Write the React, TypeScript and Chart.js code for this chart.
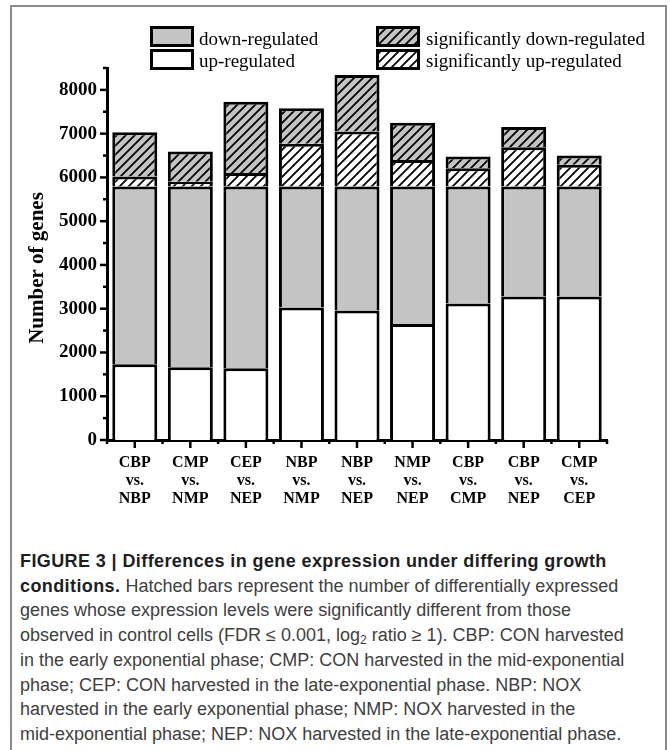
import React, { useEffect, useRef } from "react";
import { Chart, registerables } from "chart.js";

Chart.register(...registerables);

// Pairwise comparisons shown on the x axis (one line per entry)
const comparisons: string[][] = [
  ["CBP", "vs.", "NBP"],
  ["CMP", "vs.", "NMP"],
  ["CEP", "vs.", "NEP"],
  ["NBP", "vs.", "NMP"],
  ["NBP", "vs.", "NEP"],
  ["NMP", "vs.", "NEP"],
  ["CBP", "vs.", "CMP"],
  ["CBP", "vs.", "NEP"],
  ["CMP", "vs.", "CEP"],
];

// Gene counts per comparison, stacked bottom to top
const upRegulated = [1730, 1660, 1640, 3030, 2960, 2650, 3120, 3280, 3280];
const downRegulated = [4060, 4130, 4150, 2760, 2830, 3140, 2670, 2510, 2510];
const sigUpRegulated = [230, 110, 310, 980, 1260, 610, 420, 900, 500];
const sigDownRegulated = [1010, 690, 1630, 810, 1290, 850, 270, 460, 210];

const seriesNames = {
  up: "up-regulated",
  down: "down-regulated",
  sigUp: "significantly up-regulated",
  sigDown: "significantly down-regulated",
};

const yMax = 8500;
const yMajorStep = 1000;
const yMinorStep = 500;
const yTitle = "Number of genes";

const GRAY = "#c4c4c4";
const SERIF = '"Liberation Serif", "Times New Roman", serif';

function makeHatch(ctx: CanvasRenderingContext2D, bg: string): CanvasPattern {
  const s = 9;
  const c = document.createElement("canvas");
  c.width = s;
  c.height = s;
  const g = c.getContext("2d")!;
  g.fillStyle = bg;
  g.fillRect(0, 0, s, s);
  g.strokeStyle = "#000";
  g.lineWidth = 1.8;
  g.beginPath();
  g.moveTo(-2, s + 2);
  g.lineTo(s + 2, -2);
  g.moveTo(-2, 2);
  g.lineTo(2, -2);
  g.moveTo(s - 2, s + 2);
  g.lineTo(s + 2, s - 2);
  g.stroke();
  return ctx.createPattern(c, "repeat")!;
}

// Axis tick marks, legend and rotated axis title
const decorations = {
  id: "decorations",
  afterDraw(chart: any) {
    const { ctx, chartArea } = chart;
    const x = chart.scales.x;
    const y = chart.scales.y;
    ctx.save();
    ctx.strokeStyle = "#000";
    ctx.lineWidth = 2.5;
    ctx.lineCap = "butt";

    for (let v = 0; v <= yMax; v += yMinorStep) {
      const py = y.getPixelForValue(v);
      const len = v % yMajorStep === 0 ? 7 : 4;
      ctx.beginPath();
      ctx.moveTo(chartArea.left, py);
      ctx.lineTo(chartArea.left - len, py);
      ctx.stroke();
    }

    const n = comparisons.length;
    for (let i = 0; i < n; i++) {
      const px = x.getPixelForValue(i);
      ctx.beginPath();
      ctx.moveTo(px, chartArea.bottom);
      ctx.lineTo(px, chartArea.bottom + 8);
      ctx.stroke();
    }
    for (let i = 0; i <= n; i++) {
      const px = x.getPixelForValue(i - 0.5);
      ctx.beginPath();
      ctx.moveTo(px, chartArea.bottom);
      ctx.lineTo(px, chartArea.bottom + 4);
      ctx.stroke();
    }

    // legend: two columns, two rows
    const ds = chart.data.datasets;
    const byLabel = (l: string) => ds.find((d: any) => d.label === l);
    const items = [
      { d: byLabel(seriesNames.down), bx: 150, by: 26, tx: 199, ty: 44.5 },
      { d: byLabel(seriesNames.sigDown), bx: 376, by: 26, tx: 426, ty: 44.5 },
      { d: byLabel(seriesNames.up), bx: 150, by: 49, tx: 199, ty: 67 },
      { d: byLabel(seriesNames.sigUp), bx: 376, by: 49, tx: 426, ty: 67 },
    ];
    ctx.font = `19px ${SERIF}`;
    ctx.textAlign = "left";
    ctx.textBaseline = "alphabetic";
    for (const it of items) {
      const w = 44;
      const h = 21;
      ctx.fillStyle = it.d.backgroundColor;
      ctx.fillRect(it.bx, it.by, w, h);
      ctx.lineWidth = 3;
      ctx.strokeStyle = "#000";
      ctx.strokeRect(it.bx + 1.5, it.by + 1.5, w - 3, h - 3);
      ctx.fillStyle = "#000";
      ctx.fillText(it.d.label, it.tx, it.ty);
    }

    ctx.translate(38, 268);
    ctx.rotate(-Math.PI / 2);
    ctx.font = `bold 21px ${SERIF}`;
    ctx.textAlign = "center";
    ctx.textBaseline = "middle";
    ctx.fillText(yTitle, 0, 0);
    ctx.restore();
  },
};

function GeneChart() {
  const ref = useRef<HTMLCanvasElement>(null);

  useEffect(() => {
    const canvas = ref.current!;
    const ctx = canvas.getContext("2d")!;
    const hatchGray = makeHatch(ctx, GRAY);
    const hatchWhite = makeHatch(ctx, "#ffffff");

    const common = {
      borderColor: "#000",
      borderWidth: 3,
      borderSkipped: "bottom" as const,
      categoryPercentage: 1,
      barPercentage: 0.81,
    };

    const chart = new Chart(ctx, {
      type: "bar",
      data: {
        labels: comparisons,
        datasets: [
          { label: seriesNames.up, data: upRegulated, backgroundColor: "#ffffff", ...common },
          { label: seriesNames.down, data: downRegulated, backgroundColor: GRAY, ...common },
          { label: seriesNames.sigUp, data: sigUpRegulated, backgroundColor: hatchWhite, ...common },
          { label: seriesNames.sigDown, data: sigDownRegulated, backgroundColor: hatchGray, ...common },
        ],
      },
      options: {
        animation: false,
        responsive: false,
        maintainAspectRatio: false,
        layout: { padding: { left: 0, top: 68, right: 63, bottom: 0 } },
        plugins: {
          legend: { display: false },
          tooltip: { enabled: false },
        },
        scales: {
          x: {
            stacked: true,
            grid: { display: false, drawTicks: true, tickLength: 8 },
            border: { display: true, color: "#000", width: 3 },
            ticks: {
              color: "#000",
              padding: 6,
              maxRotation: 0,
              autoSkip: false,
              font: { family: SERIF, size: 16, weight: "bold", lineHeight: 1.12 },
            },
            afterFit: (s: any) => {
              s.height = 100;
            },
          },
          y: {
            stacked: true,
            min: 0,
            max: yMax,
            grid: { display: false, drawTicks: true, tickLength: 7 },
            border: { display: true, color: "#000", width: 3 },
            ticks: {
              stepSize: yMinorStep,
              color: "#000",
              padding: 3,
              font: { family: SERIF, size: 19, weight: "bold" },
              callback: (v: any) => (Number(v) % yMajorStep === 0 ? String(v) : ""),
            },
            afterFit: (s: any) => {
              s.width = 107;
            },
          },
        },
      },
      plugins: [decorations],
    });
    return () => chart.destroy();
  }, []);

  return (
    <canvas
      ref={ref}
      width={670}
      height={540}
      style={{ position: "absolute", left: 0, top: 0, width: 670, height: 540 }}
    />
  );
}

export default function App() {
  const captionLine: React.CSSProperties = { whiteSpace: "nowrap" };
  const boldText: React.CSSProperties = { color: "#1e1e1e", letterSpacing: "0.4px" };
  return (
    <div style={{ position: "absolute", left: 0, top: 0, width: 670, height: 750, overflow: "hidden" }}>
      <div
        style={{
          position: "absolute",
          left: 10,
          top: 5,
          width: 657,
          height: 760,
          border: "2px solid #8c8c8c",
          borderBottom: "none",
          boxSizing: "border-box",
        }}
      />
      <GeneChart />
      <div
        style={{
          position: "absolute",
          left: 20,
          top: 549,
          fontFamily: '"Liberation Sans", Arial, sans-serif',
          fontSize: 18,
          lineHeight: "24.7px",
          color: "#404040",
        }}
      >
        <div style={captionLine}>
          <b style={boldText}>FIGURE 3 | Differences in gene expression under differing growth</b>
        </div>
        <div style={captionLine}>
          <b style={boldText}>conditions.</b> Hatched bars represent the number of differentially expressed
        </div>
        <div style={captionLine}>genes whose expression levels were significantly different from those</div>
        <div style={captionLine}>
          observed in control cells (FDR ≤ 0.001, log
          <sub style={{ fontSize: 12, lineHeight: 0, verticalAlign: "-3px" }}>2</sub> ratio ≥ 1). CBP: CON harvested
        </div>
        <div style={captionLine}>in the early exponential phase; CMP: CON harvested in the mid-exponential</div>
        <div style={captionLine}>phase; CEP: CON harvested in the late-exponential phase. NBP: NOX</div>
        <div style={captionLine}>harvested in the early exponential phase; NMP: NOX harvested in the</div>
        <div style={captionLine}>mid-exponential phase; NEP: NOX harvested in the late-exponential phase.</div>
      </div>
    </div>
  );
}
